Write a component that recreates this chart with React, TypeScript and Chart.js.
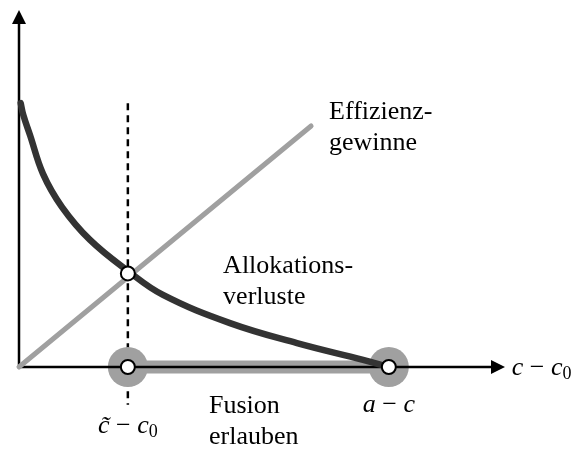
import React, { useEffect, useRef } from "react";
import { Chart, registerables } from "chart.js";

Chart.register(...registerables);

// ---- data (abstract units, both axes run 0..10) ----
const allocX = [0.035, 0.088, 0.226, 0.494, 0.885, 1.461, 2.243, 2.963, 4.342, 5.72, 7.08, 7.61];
const allocY = [7.39, 7.06, 6.5, 5.41, 4.48, 3.56, 2.69, 2.02, 1.23, 0.67, 0.2, 0];
const effX = [0, 6.01];
const effY = [0, 6.75];
const cTilde = 2.24;
const aMinusC = 7.61;
const intersectY = 2.62;
const axisMax = 10;
const dashTop = 7.39;
const dashBottom = -1.06;

const SERIF = '"Liberation Serif", "Times New Roman", serif';

type Seg = { t: string; italic?: boolean; size?: number; dy?: number };

const textBlocks = [
  { lines: ["Effizienz-", "gewinne"], x: 6.38, y: 6.95 },
  { lines: ["Allokations-", "verluste"], x: 4.2, y: 2.63 },
  { lines: ["Fusion", "erlauben"], x: 3.91, y: -1.29 },
];

const mathLabels: { segs: Seg[]; x: number; y: number; align: "left" | "center" }[] = [
  {
    segs: [
      { t: "c\u0303", italic: true },
      { t: " \u2212 " },
      { t: "c", italic: true },
      { t: "0", size: 18, dy: 4 },
    ],
    x: cTilde,
    y: -1.85,
    align: "center",
  },
  {
    segs: [{ t: "a", italic: true }, { t: " \u2212 " }, { t: "c", italic: true }],
    x: aMinusC,
    y: -1.26,
    align: "center",
  },
  {
    segs: [
      { t: "c", italic: true },
      { t: " \u2212 " },
      { t: "c", italic: true },
      { t: "0", size: 18, dy: 4 },
    ],
    x: 10.14,
    y: -0.22,
    align: "left",
  },
];

const pts = (xs: number[], ys: number[]) => xs.map((x, i) => ({ x, y: ys[i] }));

const decorPlugin = {
  id: "decor",
  afterDatasetsDraw(chart: any) {
    const { ctx, scales } = chart;
    const xs = scales.x;
    const ys = scales.y;
    const ox = xs.getPixelForValue(0);
    const oy = ys.getPixelForValue(0);
    const xt = xs.getPixelForValue(axisMax);
    const yt = ys.getPixelForValue(axisMax);
    ctx.save();
    ctx.fillStyle = "#000";
    // y arrow
    ctx.beginPath();
    ctx.moveTo(ox, yt);
    ctx.lineTo(ox - 7, yt + 14);
    ctx.lineTo(ox + 7, yt + 14);
    ctx.closePath();
    ctx.fill();
    // x arrow
    ctx.beginPath();
    ctx.moveTo(xt, oy);
    ctx.lineTo(xt - 14, oy - 7);
    ctx.lineTo(xt - 14, oy + 7);
    ctx.closePath();
    ctx.fill();

    // text blocks
    ctx.font = `26px ${SERIF}`;
    ctx.textBaseline = "alphabetic";
    ctx.textAlign = "left";
    for (const b of textBlocks) {
      const px = xs.getPixelForValue(b.x);
      const py = ys.getPixelForValue(b.y);
      b.lines.forEach((l, i) => ctx.fillText(l, px, py + i * 31));
    }

    // math labels
    for (const m of mathLabels) {
      const fontOf = (s: Seg) => `${s.italic ? "italic " : ""}${s.size ?? 26}px ${SERIF}`;
      let total = 0;
      for (const s of m.segs) {
        ctx.font = fontOf(s);
        total += ctx.measureText(s.t).width;
      }
      let px = xs.getPixelForValue(m.x);
      if (m.align === "center") px -= total / 2;
      const py = ys.getPixelForValue(m.y);
      for (const s of m.segs) {
        ctx.font = fontOf(s);
        ctx.fillText(s.t, px, py + (s.dy ?? 0));
        px += ctx.measureText(s.t).width;
      }
    }
    ctx.restore();
  },
};

export default function App() {
  const ref = useRef<HTMLCanvasElement | null>(null);

  useEffect(() => {
    if (!ref.current) return;
    const chart = new Chart(ref.current, {
      type: "line",
      data: {
        datasets: [
          {
            // white circles
            data: [
              { x: cTilde, y: intersectY },
              { x: cTilde, y: 0 },
              { x: aMinusC, y: 0 },
            ],
            showLine: false,
            pointRadius: 7,
            pointBackgroundColor: "#ffffff",
            pointBorderColor: "#000000",
            pointBorderWidth: 2,
            order: 0,
          },
          {
            // Allokationsverluste
            data: pts(allocX, allocY),
            borderColor: "#333333",
            borderWidth: 6.5,
            borderCapStyle: "round",
            borderJoinStyle: "round",
            tension: 0.4,
            pointRadius: 0,
            order: 1,
          },
          {
            // Effizienzgewinne
            data: pts(effX, effY),
            borderColor: "#a0a0a0",
            borderWidth: 5,
            borderCapStyle: "round",
            pointRadius: 0,
            order: 2,
          },
          {
            // x axis
            data: [
              { x: 0, y: 0 },
              { x: axisMax - 0.1, y: 0 },
            ],
            borderColor: "#000000",
            borderWidth: 2.5,
            pointRadius: 0,
            order: 3,
          },
          {
            // y axis
            data: [
              { x: 0, y: 0 },
              { x: 0, y: axisMax - 0.1 },
            ],
            borderColor: "#000000",
            borderWidth: 2.5,
            pointRadius: 0,
            order: 3,
          },
          {
            // gray circles
            data: [
              { x: cTilde, y: 0 },
              { x: aMinusC, y: 0 },
            ],
            showLine: false,
            pointRadius: 20,
            pointBackgroundColor: "#a0a0a0",
            pointBorderWidth: 0,
            order: 4,
          },
          {
            // gray bar "Fusion erlauben"
            data: [
              { x: cTilde, y: 0 },
              { x: aMinusC, y: 0 },
            ],
            borderColor: "#a0a0a0",
            borderWidth: 13,
            borderCapStyle: "butt",
            pointRadius: 0,
            order: 5,
          },
          {
            // dashed line
            data: [
              { x: cTilde, y: dashTop },
              { x: cTilde, y: dashBottom },
            ],
            borderColor: "#000000",
            borderWidth: 2.5,
            borderDash: [7, 5],
            pointRadius: 0,
            order: 6,
          },
        ],
      },
      options: {
        animation: false,
        responsive: false,
        layout: { padding: 0, autoPadding: false },
        plugins: { legend: { display: false }, tooltip: { enabled: false } },
        elements: { point: { hoverRadius: 0 } },
        events: [],
        scales: {
          x: { type: "linear", min: -0.391, max: 11.379, display: false },
          y: { type: "linear", min: -2.297, max: 10.28, display: false },
        },
      },
      plugins: [decorPlugin],
    } as any);
    return () => chart.destroy();
  }, []);

  return (
    <div style={{ position: "fixed", left: 0, top: 0, width: 572, height: 449, background: "#fff" }}>
      <canvas ref={ref} width={572} height={449} />
    </div>
  );
}
